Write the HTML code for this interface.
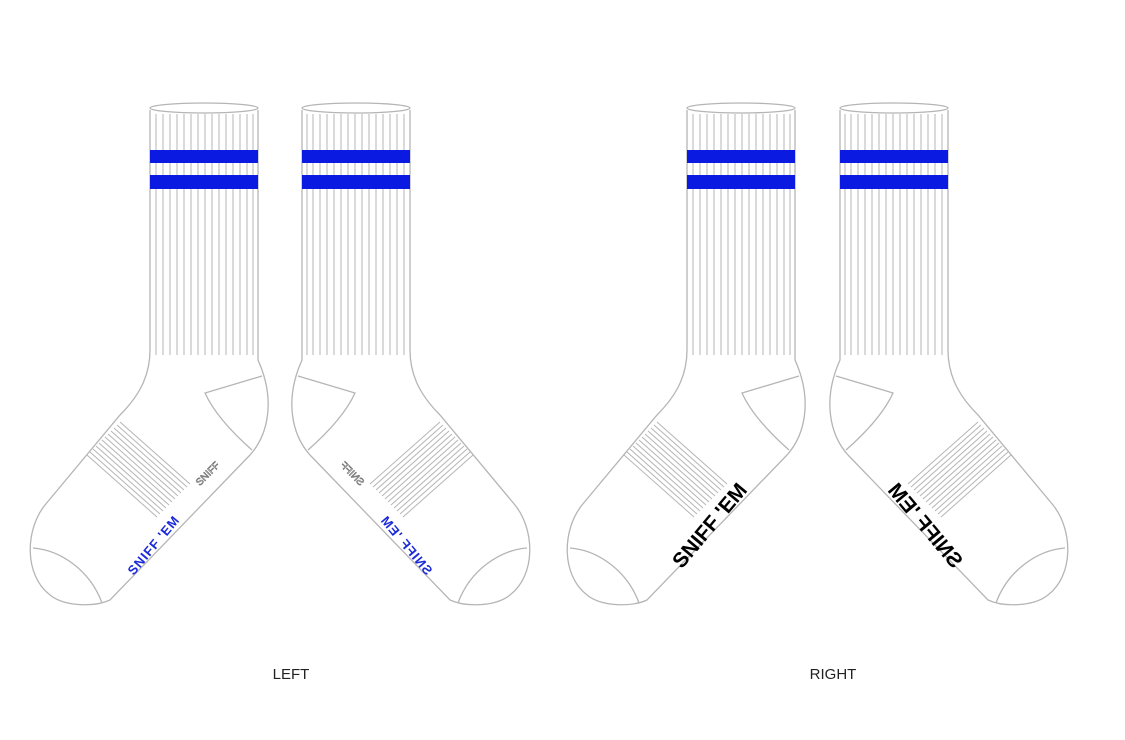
<!DOCTYPE html>
<html><head><meta charset="utf-8"><style>
html,body{margin:0;padding:0;background:#fff;width:1125px;height:740px;overflow:hidden}
svg{display:block}
text{font-family:"Liberation Sans",sans-serif}
</style></head><body>
<svg width="1125" height="740" viewBox="0 0 1125 740" xmlns="http://www.w3.org/2000/svg">
<defs>
<g id="sock" fill="none" stroke="#b5b5b5" stroke-width="1.3">
  <path d="M150,110 L150,350 C150,380 135,400 120,415 L45,505 C25,530 24,575 50,595 C65,607 95,607 110,600 L250,455 C268,435 276,400 258,360 L258,110" fill="#fff"/>
  <ellipse cx="204" cy="108" rx="54" ry="5" fill="#fff"/>
  <g stroke-width="1">
    <line x1="156" y1="114" x2="156" y2="355"/><line x1="163" y1="114" x2="163" y2="355"/>
    <line x1="170" y1="114" x2="170" y2="355"/><line x1="177" y1="114" x2="177" y2="355"/>
    <line x1="184" y1="114" x2="184" y2="355"/><line x1="191" y1="114" x2="191" y2="355"/>
    <line x1="198" y1="114" x2="198" y2="355"/><line x1="205" y1="114" x2="205" y2="355"/>
    <line x1="212" y1="114" x2="212" y2="355"/><line x1="219" y1="114" x2="219" y2="355"/>
    <line x1="226" y1="114" x2="226" y2="355"/><line x1="233" y1="114" x2="233" y2="355"/>
    <line x1="240" y1="114" x2="240" y2="355"/><line x1="247" y1="114" x2="247" y2="355"/>
    <line x1="253" y1="114" x2="253" y2="355"/>
  </g>
  <rect x="150" y="150" width="108" height="13" fill="#0a1ae0" stroke="none"/>
  <rect x="150" y="175" width="108" height="14" fill="#0a1ae0" stroke="none"/>
  <path d="M262,376 L205,393 C215,415 235,435 252,450"/>
  <path d="M33,548 C60,550 90,570 102,603"/>
  <g stroke-width="1">
    <line x1="120" y1="422" x2="190" y2="484"/><line x1="117" y1="425" x2="187" y2="487"/>
    <line x1="114" y1="428" x2="184" y2="490"/><line x1="111" y1="431" x2="181" y2="493"/>
    <line x1="108" y1="434" x2="178" y2="496"/><line x1="105" y1="437" x2="175" y2="499"/>
    <line x1="102" y1="440" x2="172" y2="502"/><line x1="99" y1="443" x2="169" y2="505"/>
    <line x1="96" y1="446" x2="166" y2="508"/><line x1="93" y1="449" x2="163" y2="511"/>
    <line x1="90" y1="452" x2="160" y2="514"/><line x1="87" y1="455" x2="157" y2="517"/>
  </g>
</g>
<g id="leftsock">
  <use href="#sock"/>
  <text x="0" y="0" transform="translate(157,548) rotate(-50)" font-size="13" font-weight="bold" fill="#1a2ad8" text-anchor="middle" letter-spacing="1">SNIFF 'EM</text>
  <text x="0" y="0" transform="translate(210,476) rotate(-45)" font-size="10" fill="none" stroke="#666" stroke-width="0.6" text-anchor="middle">SNIFF</text>
</g>
<g id="rightsock">
  <use href="#sock"/>
  <text x="0" y="0" transform="translate(178,530) rotate(-50)" font-size="21" font-weight="bold" fill="#000" text-anchor="middle">SNIFF 'EM</text>
</g>
</defs>
<use href="#leftsock"/>
<use href="#leftsock" transform="translate(560,0) scale(-1,1)"/>
<use href="#rightsock" transform="translate(537,0)"/>
<use href="#rightsock" transform="translate(1098,0) scale(-1,1)"/>
<text x="291" y="679" font-size="15" text-anchor="middle" fill="#222">LEFT</text>
<text x="833" y="679" font-size="15" text-anchor="middle" fill="#222">RIGHT</text>
</svg>
</body></html>
